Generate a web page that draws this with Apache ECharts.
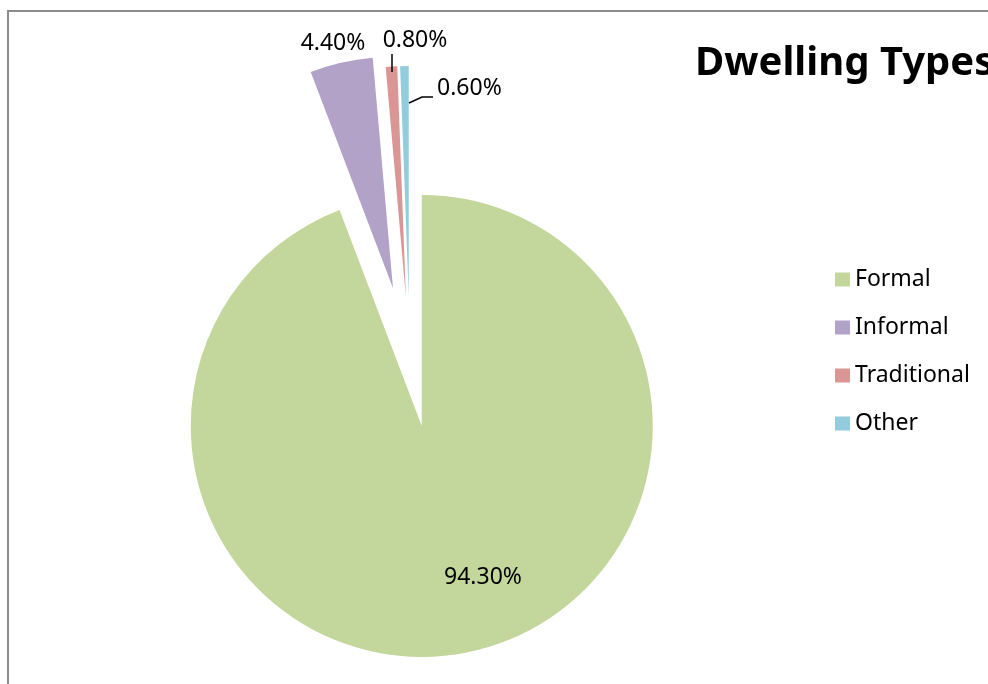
<!DOCTYPE html>
<html>
<head>
<meta charset="utf-8">
<title>Dwelling Types</title>
<script src="https://cdn.jsdelivr.net/npm/echarts@6/dist/echarts.min.js"></script>
<style>
  html, body { margin: 0; padding: 0; background: #fff; }
  #chart { width: 988px; height: 684px; }
</style>
</head>
<body>
<div id="chart"></div>
<script>
// Share of dwellings by type (percent)
const categories = ['Formal', 'Informal', 'Traditional', 'Other'];
const shares = [94.3, 4.4, 0.8, 0.6];
const colors = ['#c3d69b', '#b3a2c7', '#d99694', '#93cddd'];

const FONT = 'Noto Sans';
const pctText = v => v.toFixed(2) + '%';

// Where each value label sits, and how it is anchored
const labelSpots = {
  Formal:      { x: 483, y: 577, align: 'center' },
  Informal:    { x: 333, y: 43,  align: 'center' },
  Traditional: { x: 415, y: 40,  align: 'center' },
  Other:       { x: 437, y: 88,  align: 'left' }
};

// Leader lines joining the thin slices to their labels
const leaders = {
  Traditional: [[392, 72], [392, 54]],
  Other:       [[409, 103], [422, 97], [433, 97]]
};

const hidden = {
  itemStyle: { color: 'rgba(0,0,0,0)' },
  label: { show: false },
  labelLine: { show: false },
  emphasis: { disabled: true },
  selected: false
};

// Build one pie layer; only the names in `visible` are painted in it,
// so each layer can push its slices out by its own distance.
function pieLayer(visible, offset) {
  return {
    type: 'pie',
    center: [410, 362],
    radius: 231,
    startAngle: 90,
    clockwise: true,
    selectedMode: 'multiple',
    selectedOffset: offset,
    avoidLabelOverlap: false,
    animation: false,
    label: { show: false },
    labelLine: { show: false },
    emphasis: { scale: false },
    data: categories.map((name, i) => {
      if (!visible.includes(name)) {
        return Object.assign({ name: name, value: shares[i] }, hidden);
      }
      return {
        name: name,
        value: shares[i],
        selected: true,
        itemStyle: { color: colors[i] }
      };
    })
  };
}

// Value labels, written from the same shares that size the slices
const valueLabels = categories.map((name, i) => {
  const s = labelSpots[name];
  return {
    type: 'text',
    x: s.x,
    y: s.y,
    silent: true,
    z: 10,
    style: {
      text: pctText(shares[i]),
      fontFamily: FONT,
      fontSize: 23,
      fill: '#000',
      align: s.align,
      verticalAlign: 'middle'
    }
  };
});

const leaderLines = Object.keys(leaders).map(name => ({
  type: 'polyline',
  silent: true,
  z: 10,
  shape: { points: leaders[name] },
  style: { stroke: '#000', lineWidth: 1.5, fill: 'none' }
}));

const chart = echarts.init(document.getElementById('chart'), null, { renderer: 'canvas' });

chart.setOption({
  backgroundColor: '#fff',
  title: {
    text: 'Dwelling Types',
    left: 695,
    top: 44,
    padding: 0,
    textStyle: { fontFamily: FONT, fontSize: 40, fontWeight: 'bold', color: '#000' }
  },
  legend: {
    orient: 'vertical',
    left: 835,
    top: 268,
    padding: 0,
    icon: 'rect',
    itemWidth: 15,
    itemHeight: 14,
    itemGap: 25,
    selectedMode: false,
    textStyle: { fontFamily: FONT, fontSize: 23, color: '#000' },
    data: categories.map((name, i) => ({ name: name, itemStyle: { color: colors[i] } }))
  },
  graphic: [{
    type: 'rect',
    shape: { x: 8, y: 11, width: 1400, height: 1200 },
    style: { fill: 'none', stroke: '#8c8c8c', lineWidth: 2 },
    silent: true,
    z: -1
  }].concat(valueLabels, leaderLines),
  series: [
    pieLayer(['Formal', 'Traditional', 'Other'], 65),
    pieLayer(['Informal'], 76)
  ]
});
</script>
</body>
</html>
